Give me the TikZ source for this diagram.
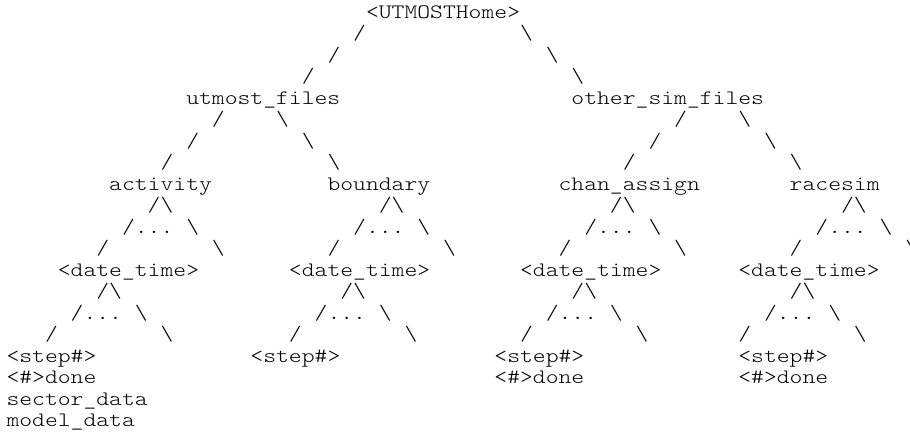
\documentclass[tikz,border=0pt]{standalone}
\usepackage{graphicx}
% one character cell: 12.84bp wide, 21.5bp per line
\tikzset{
  tok/.style={anchor=base west, inner sep=0pt, outer sep=0pt,
    font=\ttfamily\fontseries{l}\fontsize{20.5bp}{20.5bp}\selectfont},
}
\newcommand\tok[4]{\node[tok] (#1) at ({6.5+12.84*#2},{18.3+21.5*#3}) {\scalebox{1.193}[1]{#4}};}
\newcommand\bs{\textbackslash}
\begin{document}
\begin{tikzpicture}[x=1bp,y=-1bp]
\fill[white] (0,0) rectangle (910,431);
\useasboundingbox (0,0) rectangle (910,431);
% root and its two branches
\tok{home}{28}{0}{<UTMOSTHome>}
\tok{r1c27}{27}{1}{/}   \tok{r1c40}{40}{1}{\bs}
\tok{r2c25}{25}{2}{/}   \tok{r2c42}{42}{2}{\bs}
\tok{r3c23}{23}{3}{/}   \tok{r3c44}{44}{3}{\bs}
\tok{utmost}{14}{4}{utmost\_files}
\tok{other}{44}{4}{other\_sim\_files}
\tok{r5c16}{16}{5}{/}   \tok{r5c21}{21}{5}{\bs}
\tok{r5c52}{52}{5}{/}   \tok{r5c57}{57}{5}{\bs}
\tok{r6c14}{14}{6}{/}   \tok{r6c23}{23}{6}{\bs}
\tok{r6c50}{50}{6}{/}   \tok{r6c59}{59}{6}{\bs}
\tok{r7c12}{12}{7}{/}   \tok{r7c25}{25}{7}{\bs}
\tok{r7c48}{48}{7}{/}   \tok{r7c61}{61}{7}{\bs}
% the four simulation folders
\tok{activity}{8}{8}{activity}
\tok{boundary}{25}{8}{boundary}
\tok{chan}{43}{8}{chan\_assign}
\tok{race}{61}{8}{racesim}
\tok{r9c11}{11}{9}{/\bs}
\tok{r9c29}{29}{9}{/\bs}
\tok{r9c47}{47}{9}{/\bs}
\tok{r9c65}{65}{9}{/\bs}
\tok{r10c9}{9}{10}{/...}   \tok{r10c14}{14}{10}{\bs}
\tok{r10c27}{27}{10}{/...} \tok{r10c32}{32}{10}{\bs}
\tok{r10c45}{45}{10}{/...} \tok{r10c50}{50}{10}{\bs}
\tok{r10c63}{63}{10}{/...} \tok{r10c68}{68}{10}{\bs}
\tok{r11c7}{7}{11}{/}    \tok{r11c16}{16}{11}{\bs}
\tok{r11c25}{25}{11}{/}  \tok{r11c34}{34}{11}{\bs}
\tok{r11c43}{43}{11}{/}  \tok{r11c52}{52}{11}{\bs}
\tok{r11c61}{61}{11}{/}  \tok{r11c70}{70}{11}{\bs}
% run folders
\tok{dt1}{4}{12}{<date\_time>}
\tok{dt2}{22}{12}{<date\_time>}
\tok{dt3}{40}{12}{<date\_time>}
\tok{dt4}{57}{12}{<date\_time>}
\tok{r13c7}{7}{13}{/\bs}
\tok{r13c26}{26}{13}{/\bs}
\tok{r13c44}{44}{13}{/\bs}
\tok{r13c61}{61}{13}{/\bs}
\tok{r14c5}{5}{14}{/...}   \tok{r14c10}{10}{14}{\bs}
\tok{r14c24}{24}{14}{/...} \tok{r14c29}{29}{14}{\bs}
\tok{r14c42}{42}{14}{/...} \tok{r14c47}{47}{14}{\bs}
\tok{r14c59}{59}{14}{/...} \tok{r14c64}{64}{14}{\bs}
\tok{r15c3}{3}{15}{/}    \tok{r15c12}{12}{15}{\bs}
\tok{r15c22}{22}{15}{/}  \tok{r15c31}{31}{15}{\bs}
\tok{r15c40}{40}{15}{/}  \tok{r15c49}{49}{15}{\bs}
\tok{r15c57}{57}{15}{/}  \tok{r15c66}{66}{15}{\bs}
% contents of each run folder
\tok{step1}{0}{16}{<step\#>}
\tok{step2}{19}{16}{<step\#>}
\tok{step3}{38}{16}{<step\#>}
\tok{step4}{57}{16}{<step\#>}
\tok{done1}{0}{17}{<\#>done}
\tok{done3}{38}{17}{<\#>done}
\tok{done4}{57}{17}{<\#>done}
\tok{sector}{0}{18}{sector\_data}
\tok{model}{0}{19}{model\_data}
\end{tikzpicture}
\end{document}
